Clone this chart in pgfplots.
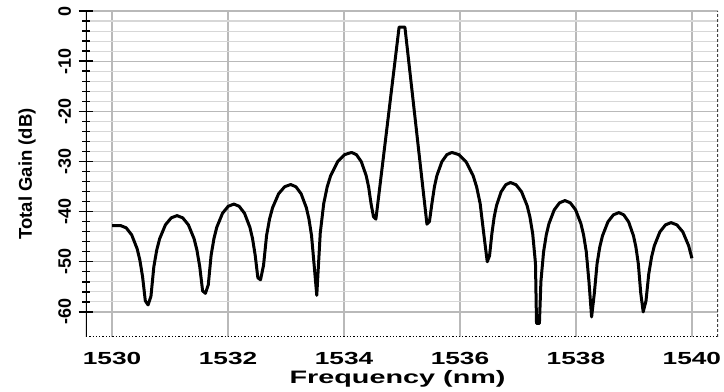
\documentclass[border=0pt]{standalone}
\usepackage{fontspec}
\setmainfont{Liberation Sans}
\usepackage{pgfplots}
\pgfplotsset{compat=1.18}
\definecolor{majgrid}{RGB}{185,185,185}
\definecolor{mingrid}{RGB}{215,215,215}
\begin{document}
\begin{tikzpicture}
\begin{axis}[
  scale only axis, width=632pt, height=326pt,
  xmin=1529.55, xmax=1540.45, ymin=-65, ymax=0,
  xtick={1530,1532,...,1540}, minor x tick num=4,
  ytick={-60,-50,...,0}, minor y tick num=4,
  grid=both,
  major grid style={majgrid, line width=1.2pt},
  minor grid style={mingrid, line width=1.1pt},
  axis line style={draw=none},
  xtick pos=bottom, ytick pos=left,
  tick align=center,
  major tick length=15pt, minor tick length=8pt,
  /pgf/number format/1000 sep={},
  /pgf/number format/assume math mode=true,
  y tick style={black, line width=1.4pt},
  x tick style={draw=none},
  xticklabel style={font=\bfseries\fontsize{17.5}{17.5}\selectfont, xscale=1.5, yshift=-4pt},
  yticklabel style={font=\bfseries\fontsize{18}{18}\selectfont, rotate=90, anchor=south, yshift=4pt},
  xlabel={Frequency (nm)},
  ylabel={Total Gain (dB)},
  xlabel style={font=\bfseries\fontsize{18}{18}\selectfont, xscale=1.6, at={(axis description cs:0.493,-0.127)}, anchor=center},
  ylabel style={font=\bfseries\fontsize{18.5}{18.5}\selectfont, at={(axis description cs:-0.0934,0.5)}, anchor=center, rotate=0},
]
\addplot[black, line width=3pt, line join=round] coordinates {
(1530.00,-42.8) (1530.15,-42.8) (1530.244,-43.24) (1530.338,-44.64) (1530.432,-47.41)
(1530.479,-49.66) (1530.526,-53.0) (1530.573,-57.8) (1530.62,-58.6)
(1530.67,-56.9) (1530.72,-51.0) (1530.77,-47.66) (1530.82,-45.41) (1530.92,-42.64)
(1531.02,-41.24) (1531.12,-40.8) (1531.218,-41.24) (1531.316,-42.64) (1531.414,-45.41)
(1531.463,-47.66) (1531.512,-51.0) (1531.561,-55.8) (1531.61,-56.3)
(1531.659,-54.6) (1531.708,-48.7) (1531.757,-45.36) (1531.806,-43.11) (1531.904,-40.34)
(1532.002,-38.94) (1532.10,-38.5) (1532.192,-38.94) (1532.284,-40.34) (1532.376,-43.11)
(1532.422,-45.36) (1532.468,-48.7) (1532.514,-53.2) (1532.56,-53.6)
(1532.612,-50.7) (1532.664,-44.8) (1532.716,-41.46) (1532.768,-39.21) (1532.872,-36.44)
(1532.976,-35.04) (1533.08,-34.6) (1533.17,-35.04) (1533.26,-36.44) (1533.35,-39.21)
(1533.395,-41.46) (1533.44,-44.8) (1533.485,-50.7) (1533.53,-56.7)
(1533.59,-44.3) (1533.65,-38.4) (1533.71,-35.06) (1533.77,-32.81) (1533.89,-30.04)
(1534.01,-28.64) (1534.13,-28.2) (1534.214,-28.64) (1534.298,-30.04) (1534.382,-32.81)
(1534.424,-35.06) (1534.466,-38.4) (1534.508,-41.0) (1534.55,-41.5)
(1534.75,-22.4) (1534.95,-3.2) (1535.05,-3.2) (1535.24,-22.85) (1535.43,-42.5)
(1535.473,-42.0) (1535.516,-38.4) (1535.559,-35.06) (1535.602,-32.81) (1535.688,-30.04)
(1535.774,-28.64) (1535.86,-28.2) (1535.982,-28.64) (1536.104,-30.04) (1536.226,-32.81)
(1536.287,-35.06) (1536.348,-38.4) (1536.409,-44.3) (1536.47,-50.0)
(1536.51,-48.8) (1536.55,-44.4) (1536.59,-41.06) (1536.63,-38.81) (1536.71,-36.04)
(1536.79,-34.64) (1536.87,-34.2) (1536.966,-34.64) (1537.062,-36.04) (1537.158,-38.81)
(1537.206,-41.06) (1537.254,-44.4) (1537.302,-50.3) (1537.32,-62.3) (1537.37,-62.3)
(1537.396,-53.9) (1537.442,-48.0) (1537.488,-44.66) (1537.534,-42.41) (1537.626,-39.64)
(1537.718,-38.24) (1537.81,-37.8) (1537.902,-38.24) (1537.994,-39.64) (1538.086,-42.41)
(1538.132,-44.66) (1538.178,-48.0) (1538.224,-53.9) (1538.27,-61.0)
(1538.317,-56.3) (1538.364,-50.4) (1538.411,-47.06) (1538.458,-44.81) (1538.552,-42.04)
(1538.646,-40.64) (1538.74,-40.2) (1538.824,-40.64) (1538.908,-42.04) (1538.992,-44.81)
(1539.034,-47.06) (1539.076,-50.4) (1539.118,-56.3) (1539.16,-60.0)
(1539.208,-57.8) (1539.256,-52.4) (1539.304,-49.06) (1539.352,-46.81) (1539.448,-44.04)
(1539.544,-42.64) (1539.64,-42.2) (1539.741,-42.64) (1539.843,-44.04) (1539.944,-46.81)
(1540.00,-49.3)
};
\draw[black, line width=2.2pt] (rel axis cs:0,0) -- (rel axis cs:0,1);
\draw[black, line width=1.3pt, dotted] (rel axis cs:0,0) -- (rel axis cs:1,0);
\draw[black!75, line width=1.6pt, densely dashed] (rel axis cs:1,0) -- (rel axis cs:1,1);
\end{axis}
\pgfresetboundingbox
\path[use as bounding box] ([shift={(-86pt,-55pt)}]current axis.south west) rectangle ([shift={(6pt,11pt)}]current axis.north east);
\end{tikzpicture}
\end{document}
